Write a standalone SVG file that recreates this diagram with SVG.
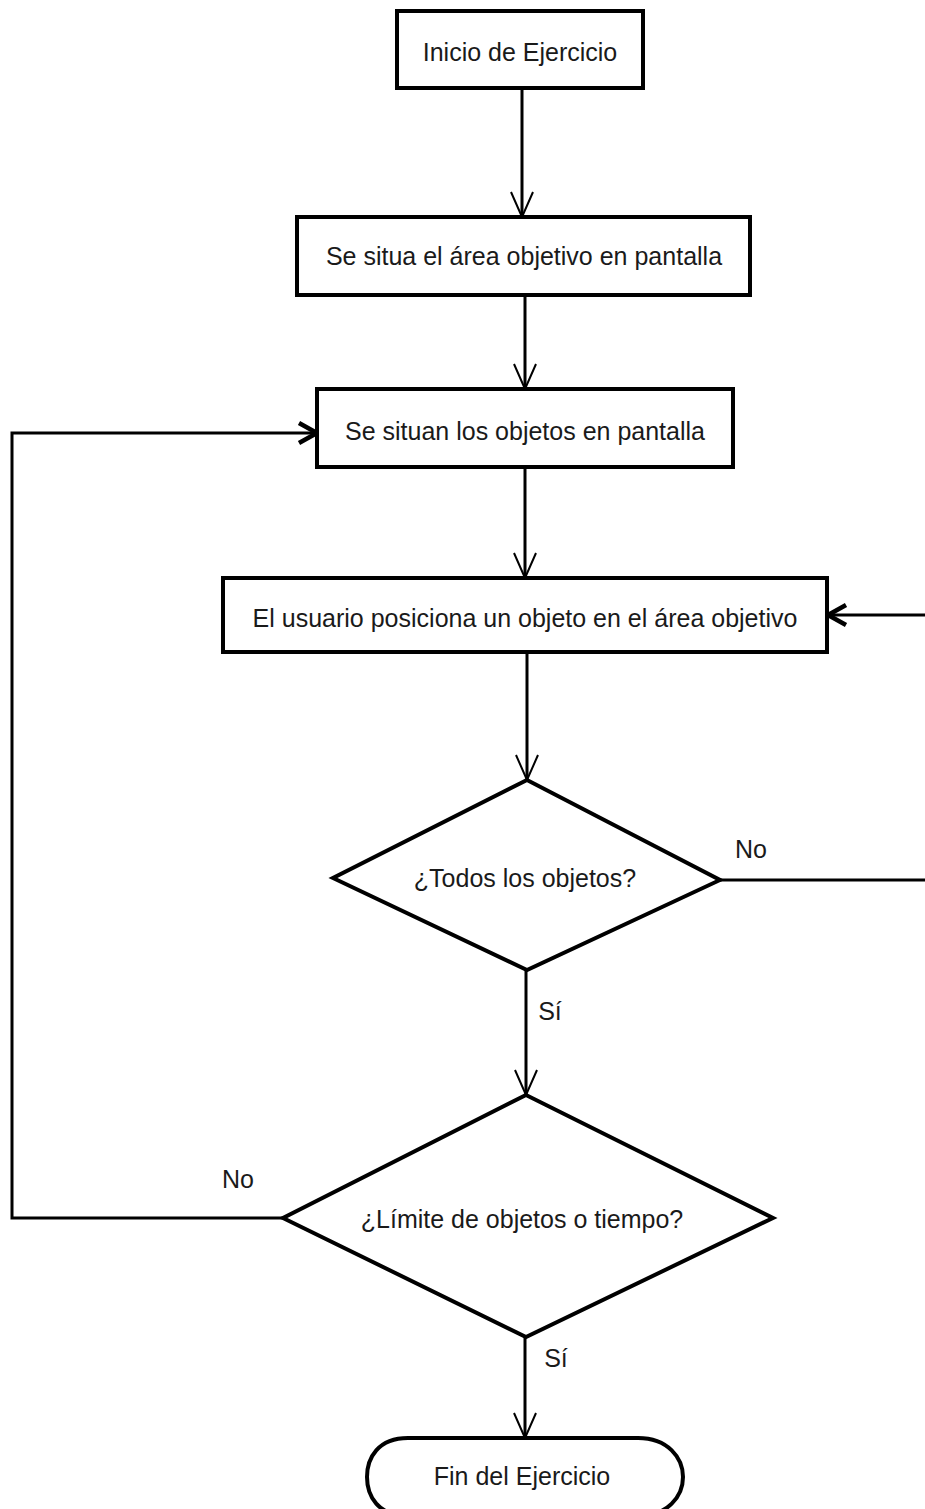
<svg xmlns="http://www.w3.org/2000/svg" width="925" height="1509" viewBox="0 0 925 1509">
  <style>
    .box { fill: #ffffff; stroke: #000000; stroke-width: 4; }
    .lbl { font-family: "Liberation Sans", Arial, sans-serif; font-size: 25px; fill: #1a1a1a; text-anchor: middle; }
    .edge { fill: none; stroke: #000000; stroke-width: 3; }
  </style>
  <defs>
    <marker id="thin" markerUnits="userSpaceOnUse" viewBox="0 0 26 22" refX="25" refY="11" markerWidth="26" markerHeight="22" orient="auto" overflow="visible">
      <path d="M0,0 L25,11 L0,22" fill="none" stroke="#000000" stroke-width="2"/>
    </marker>
    <marker id="thick" markerUnits="userSpaceOnUse" viewBox="0 0 22 24" refX="20" refY="12" markerWidth="22" markerHeight="24" orient="auto" overflow="visible">
      <path d="M2,2 L20,12 L2,22" fill="none" stroke="#000000" stroke-width="4.5"/>
    </marker>
  </defs>
  <rect width="925" height="1509" fill="#ffffff"/>

  <g id="connectors">
    <line class="edge" x1="522" y1="88" x2="522" y2="217" marker-end="url(#thin)"/>
    <line class="edge" x1="525" y1="295" x2="525" y2="389" marker-end="url(#thin)"/>
    <line class="edge" x1="525" y1="467" x2="525" y2="578" marker-end="url(#thin)"/>
    <line class="edge" x1="527" y1="651" x2="527" y2="780" marker-end="url(#thin)"/>
    <line class="edge" x1="526" y1="970" x2="526" y2="1095" marker-end="url(#thin)"/>
    <line class="edge" x1="525" y1="1337" x2="525" y2="1438" marker-end="url(#thin)"/>
    <path class="edge" d="M720,880 H927 V615 H828" marker-end="url(#thick)"/>
    <path class="edge" d="M283,1218 H12 V433 H317" marker-end="url(#thick)"/>
    <text class="lbl" x="751" y="858">No</text>
    <text class="lbl" x="550" y="1020">Sí</text>
    <text class="lbl" x="238" y="1188">No</text>
    <text class="lbl" x="556" y="1367">Sí</text>
  </g>

  <g id="inicio">
    <rect class="box" x="397" y="11" width="246" height="77"/>
    <text class="lbl" x="520" y="61">Inicio de Ejercicio</text>
  </g>

  <g id="area">
    <rect class="box" x="297" y="217" width="453" height="78"/>
    <text class="lbl" x="524" y="265">Se situa el área objetivo en pantalla</text>
  </g>

  <g id="objetos">
    <rect class="box" x="317" y="389" width="416" height="78"/>
    <text class="lbl" x="525" y="440">Se situan los objetos en pantalla</text>
  </g>

  <g id="posiciona">
    <rect class="box" x="223" y="578" width="604" height="74"/>
    <text class="lbl" x="525" y="627">El usuario posiciona un objeto en el área objetivo</text>
  </g>

  <g id="todos">
    <polygon class="box" points="527,780 720,880 527,970 333,878"/>
    <text class="lbl" x="525" y="887">¿Todos los objetos?</text>
  </g>

  <g id="limite">
    <polygon class="box" points="526,1095 773,1218 526,1337 283,1218"/>
    <text class="lbl" x="522" y="1228">¿Límite de objetos o tiempo?</text>
  </g>

  <g id="fin">
    <path class="box" d="M408,1438 H638 C668,1438 683,1458 683,1477 C683,1496 668,1516 638,1516 H408 C378,1516 367,1496 367,1477 C367,1458 378,1438 408,1438 Z"/>
    <text class="lbl" x="522" y="1485">Fin del Ejercicio</text>
  </g>
</svg>
